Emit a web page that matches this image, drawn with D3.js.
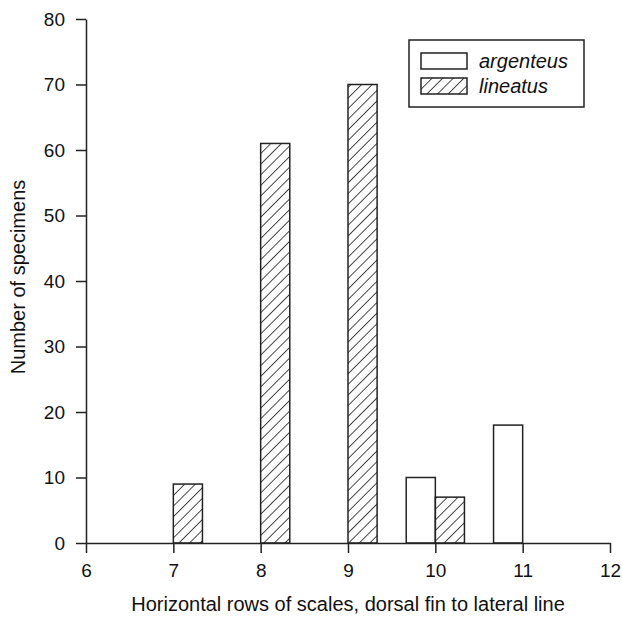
<!DOCTYPE html>
<html>
<head>
<meta charset="utf-8">
<script src="https://cdn.jsdelivr.net/npm/d3@7"></script>
<style>
  body { margin: 0; background: #fff; }
  text { font-family: "Liberation Sans", Arial, sans-serif; fill: #111; }
</style>
</head>
<body>
<div id="chart"></div>
<script>
// data
const rowCounts = [7, 8, 9, 10, 11];
const argenteus = [0, 0, 0, 10, 18];
const lineatus = [9, 61, 70, 7, 0];
const xTicks = [6, 7, 8, 9, 10, 11, 12];
const yTicks = [0, 10, 20, 30, 40, 50, 60, 70, 80];
const seriesNames = ["argenteus", "lineatus"];

let width = 622, height = 619;
let margin = {top: 19, right: 12, bottom: 76, left: 86};

let svg = d3.select("#chart")
  .append("svg")
  .attr("width", width)
  .attr("height", height);

// hatch pattern for lineatus
let defs = svg.append("defs");
defs.append("pattern")
  .attr("id", "hatch")
  .attr("patternUnits", "userSpaceOnUse")
  .attr("width", 7.5)
  .attr("height", 7.5)
  .attr("patternTransform", "rotate(45)")
  .append("line")
  .attr("x1", 0).attr("y1", 0)
  .attr("x2", 0).attr("y2", 7.5)
  .attr("stroke", "#1a1a1a")
  .attr("stroke-width", 1.6);

let x = d3.scaleLinear()
  .domain([6, 12])
  .range([margin.left, width - margin.right]);

let y = d3.scaleLinear()
  .domain([0, 80])
  .range([height - margin.bottom, margin.top]);

let barW = x(6 + 1 / 3) - x(6);

// bars: argenteus sits just left of the value, lineatus just right
let g = svg.append("g");
rowCounts.forEach((v, i) => {
  if (argenteus[i] > 0) {
    g.append("rect")
      .attr("x", x(v) - barW)
      .attr("y", y(argenteus[i]))
      .attr("width", barW)
      .attr("height", y(0) - y(argenteus[i]))
      .attr("fill", "#fff")
      .attr("stroke", "#222")
      .attr("stroke-width", 1.5);
  }
  if (lineatus[i] > 0) {
    g.append("rect")
      .attr("x", x(v))
      .attr("y", y(lineatus[i]))
      .attr("width", barW)
      .attr("height", y(0) - y(lineatus[i]))
      .attr("fill", "url(#hatch)")
      .attr("stroke", "#222")
      .attr("stroke-width", 1.5);
  }
});

// axes
let xAxis = svg.append("g")
  .attr("transform", `translate(0,${y(0)})`)
  .call(d3.axisBottom(x).tickValues(xTicks).tickFormat(d3.format("d"))
    .tickSize(10).tickPadding(11).tickSizeOuter(0));

let yAxis = svg.append("g")
  .attr("transform", `translate(${x(6)},0)`)
  .call(d3.axisLeft(y).tickValues(yTicks).tickFormat(d3.format("d"))
    .tickSize(10).tickPadding(11).tickSizeOuter(0));

[xAxis, yAxis].forEach(a => {
  a.selectAll("path, line").attr("stroke", "#222").attr("stroke-width", 1.5);
  a.selectAll("text").style("font-size", "19px").attr("fill", "#111");
});

// axis titles
svg.append("text")
  .attr("x", 348)
  .attr("y", 611)
  .attr("text-anchor", "middle")
  .style("font-size", "20px")
  .text("Horizontal rows of scales, dorsal fin to lateral line");

svg.append("text")
  .attr("transform", "translate(25,277) rotate(-90)")
  .attr("text-anchor", "middle")
  .style("font-size", "20px")
  .text("Number of specimens");

// legend
let legend = svg.append("g").attr("transform", "translate(409,40)");
legend.append("rect")
  .attr("width", 175)
  .attr("height", 67)
  .attr("fill", "#fff")
  .attr("stroke", "#222")
  .attr("stroke-width", 1.5);

seriesNames.forEach((name, i) => {
  let row = legend.append("g").attr("transform", `translate(12,${13 + i * 25})`);
  row.append("rect")
    .attr("width", 46)
    .attr("height", 16)
    .attr("fill", i === 0 ? "#fff" : "url(#hatch)")
    .attr("stroke", "#222")
    .attr("stroke-width", 1.5);
  row.append("text")
    .attr("x", 58)
    .attr("y", 15)
    .style("font-size", "20px")
    .style("font-style", "italic")
    .text(name);
});
</script>
</body>
</html>
